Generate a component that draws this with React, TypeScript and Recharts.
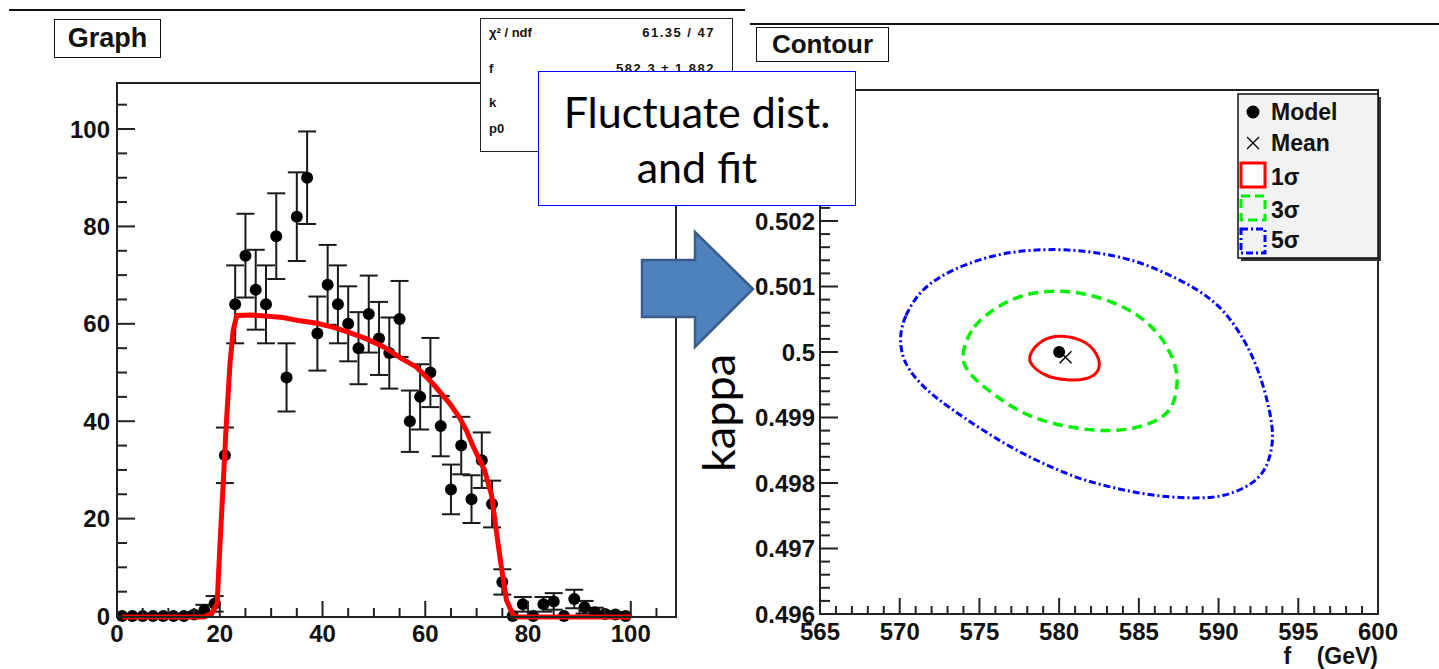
import React from "react";
import { ComposedChart, Scatter, Line, XAxis, YAxis, ErrorBar } from "recharts";

// ---- left pad: fluctuated distribution + fit ----
const binCenters = [1, 3, 5, 7, 9, 11, 13, 15, 17, 19, 21, 23, 25, 27, 29, 31, 33, 35, 37, 39, 41, 43, 45, 47, 49, 51, 53, 55, 57, 59, 61, 63, 65, 67, 69, 71, 73, 75, 77, 79, 81, 83, 85, 87, 89, 91, 93, 95, 97, 99];
const counts = [0, 0, 0, 0, 0, 0, 0, 0.3, 1.2, 2.5, 33, 64, 74, 67, 64, 78, 49, 82, 90, 58, 68, 64, 60, 55, 62, 57, 54, 61, 40, 45, 50, 39, 26, 35, 24, 32, 23, 7, 0, 2.4, 0, 2.4, 3, 0, 3.5, 1.8, 0.8, 0.4, 0.3, 0];
const countErrors = [0, 0, 0, 0, 0, 0, 0, 0.5, 1.1, 1.6, 5.7, 8, 8.6, 8.2, 8, 8.8, 7, 9.1, 9.5, 7.6, 8.2, 8, 7.7, 7.4, 7.9, 7.5, 7.3, 7.8, 6.3, 6.7, 7.1, 6.2, 5.1, 5.9, 4.9, 5.7, 4.8, 2.6, 0, 1.5, 0, 1.5, 1.7, 0, 1.9, 1.3, 0.9, 0.6, 0.5, 0];

const fitX = [1, 17, 18.5, 19.5, 20, 20.7, 21.3, 22, 22.6, 23.3, 26, 30, 32.3, 35.6, 38.9, 42, 45, 48.6, 52, 55, 58.3, 61.5, 64.8, 66.7, 68, 69.3, 70.6, 71.5, 72.9, 73.9, 74.8, 75.8, 77.1, 78, 100];
const fitY = [0, 0, 0.8, 2.8, 14, 28, 40, 52, 58.7, 61.8, 61.9, 61.6, 61.4, 60.7, 60.2, 59.4, 58.4, 57, 55.3, 53.2, 51.2, 47.8, 43.7, 40.8, 38.2, 35, 32.1, 30.2, 25, 17.1, 10.3, 3.5, 0.4, 0, 0];

const leftXLabels = [0, 20, 40, 60, 80, 100];
const leftYLabels = [0, 20, 40, 60, 80, 100];

// ---- right pad: contours in (f, kappa) ----
const modelPoint = { f: 580.0, k: 0.5 };
const meanPoint = { f: 580.4, k: 0.49992 };

const contour1Sigma = [
  [578.0, 0.49994], [578.9, 0.5002], [580.1, 0.50027], [581.8, 0.50017], [582.6, 0.49989],
  [582.5, 0.49969], [581.8, 0.49958], [580.5, 0.49956], [579.1, 0.49963], [578.25, 0.49979],
];
const contour3Sigma = [
  [573.9, 0.49999], [574.5, 0.5004], [576.2, 0.50071], [577.8, 0.50089], [579.7, 0.50094],
  [581.4, 0.50091], [583.5, 0.50076], [585.1, 0.50055], [586.4, 0.50025], [587.2, 0.49989],
  [587.5, 0.49958], [587.2, 0.49917], [586.4, 0.49897], [584.7, 0.49882], [583.0, 0.49879],
  [581.4, 0.49882], [579.3, 0.49892], [577.6, 0.49907], [576.0, 0.49933], [574.7, 0.49958],
  [574.0, 0.49979],
];
const contour5Sigma = [
  [570.0, 0.50025], [570.3, 0.50055], [571.2, 0.50091], [572.4, 0.50114], [574.1, 0.50134],
  [576.2, 0.5015], [578.25, 0.50156], [580.3, 0.50157], [582.4, 0.50152], [584.5, 0.50142],
  [586.6, 0.50122], [588.7, 0.50096], [590.3, 0.50066], [591.6, 0.5002], [592.4, 0.49979],
  [593.0, 0.49933], [593.4, 0.49887], [593.4, 0.49856], [593.0, 0.49821], [592.2, 0.498],
  [591.0, 0.49785], [589.7, 0.49777], [587.6, 0.49777], [585.5, 0.49782], [583.5, 0.49792],
  [581.4, 0.49805], [579.3, 0.49826], [577.2, 0.49851], [575.1, 0.49882], [573.0, 0.49917],
  [571.6, 0.49943], [570.5, 0.49974], [570.1, 0.49999],
];

const rightXLabels = [565, 570, 575, 580, 585, 590, 595, 600];
// 0.503 and 0.504 sit under the annotation box, so only the visible ones are labelled
const rightYLabels = [0.496, 0.497, 0.498, 0.499, 0.5, 0.501, 0.502];

const spectrum = binCenters.map((x, i) => ({ x, y: counts[i], err: countErrors[i] }));
const fitCurve = fitX.map((x, i) => ({ x, y: fitY[i] }));
const toPts = (c: number[][]) => c.map(([f, k]) => ({ f, k }));

const steps = (from: number, to: number, step: number) => {
  const out: number[] = [];
  for (let v = from; v <= to + step / 2; v += step) out.push(Math.round(v * 1e6) / 1e6);
  return out;
};

const AXIS_FONT = "'Liberation Sans', Arial, sans-serif";
const CALLOUT_FONT = "Lato, 'Open Sans', sans-serif";

const LEFT_X_DOMAIN: [number, number] = [0, 108.8];
const LEFT_Y_DOMAIN: [number, number] = [0, 109.45];

const AxisTick = (props: any) => {
  const { x, y, payload, side, labels, majorLen, minorLen, fmt, gap } = props;
  const v = payload.value;
  const major = labels.some((l: number) => Math.abs(l - v) < 1e-7);
  const len = major ? majorLen : minorLen;
  const txt = { fontFamily: AXIS_FONT, fontWeight: 700, fontSize: 24, fill: "#111" };
  if (side === "left") {
    return (
      <g>
        <line x1={x} x2={x + len} y1={y} y2={y} stroke="#222" strokeWidth={2} />
        {major && (
          <text x={x - gap} y={y} textAnchor="end" dominantBaseline="central" style={txt}>
            {fmt(v)}
          </text>
        )}
      </g>
    );
  }
  return (
    <g>
      <line x1={x} x2={x} y1={y} y2={y - len} stroke="#222" strokeWidth={2} />
      {major && (
        <text x={x} y={y + gap} textAnchor="middle" dominantBaseline="central" style={txt}>
          {fmt(v)}
        </text>
      )}
    </g>
  );
};

const Dot = (p: any) => <circle cx={p.cx} cy={p.cy} r={6} fill="#000" />;
const Cross = (p: any) => (
  <g stroke="#000" strokeWidth={1.5}>
    <line x1={p.cx - 6} y1={p.cy - 6} x2={p.cx + 6} y2={p.cy + 6} />
    <line x1={p.cx - 6} y1={p.cy + 6} x2={p.cx + 6} y2={p.cy - 6} />
  </g>
);

const abs = (l: number, t: number, extra: React.CSSProperties = {}): React.CSSProperties => ({
  position: "absolute",
  left: l,
  top: t,
  ...extra,
});

const titleBox: React.CSSProperties = {
  border: "1.5px solid #111",
  background: "#fff",
  boxSizing: "border-box",
  fontFamily: AXIS_FONT,
  fontWeight: 700,
  display: "flex",
  alignItems: "center",
  justifyContent: "center",
  color: "#111",
};

const statFont: React.CSSProperties = {
  fontFamily: AXIS_FONT,
  fontWeight: 700,
  fontSize: 13,
  color: "#111",
  lineHeight: "14px",
};

export default function App() {
  const fmtInt = (v: number) => String(v);
  const fmtK = (v: number) => String(Number(v.toFixed(3)));

  return (
    <div style={{ position: "absolute", left: 0, top: 0, width: 1439, height: 669, background: "#fff", overflow: "hidden" }}>
      <div style={abs(9, 9, { width: 736, height: 2, background: "#111" })} />
      <div style={abs(750, 23, { width: 689, height: 2, background: "#111" })} />

      {/* left pad: points with error bars */}
      <div style={abs(0, 0)}>
        <ComposedChart width={720} height={669} margin={{ top: 83, right: 44, bottom: 22, left: 57 }}>
          <XAxis
            dataKey="x"
            type="number"
            domain={LEFT_X_DOMAIN}
            ticks={steps(0, 105, 5)}
            interval={0}
            axisLine={false}
            tickLine={false}
            tickSize={0}
            tickMargin={0}
            height={30}
            tick={<AxisTick side="bottom" labels={leftXLabels} majorLen={16} minorLen={9} fmt={fmtInt} gap={16} />}
          />
          <YAxis
            type="number"
            domain={LEFT_Y_DOMAIN}
            ticks={steps(0, 105, 5)}
            interval={0}
            axisLine={false}
            tickLine={false}
            tickSize={0}
            tickMargin={0}
            width={60}
            tick={<AxisTick side="left" labels={leftYLabels} majorLen={18} minorLen={10} fmt={fmtInt} gap={7} />}
          />
          <Scatter data={spectrum} dataKey="y" fill="#000" shape={Dot} isAnimationActive={false}>
            <ErrorBar dataKey="err" direction="y" width={9} stroke="#1a1a1a" strokeWidth={2} isAnimationActive={false} />
          </Scatter>
        </ComposedChart>
      </div>
      {/* left pad: fit function drawn over the points, same axes */}
      <div style={abs(0, 0)}>
        <ComposedChart width={720} height={669} margin={{ top: 83, right: 44, bottom: 52, left: 117 }}>
          <XAxis dataKey="x" type="number" domain={LEFT_X_DOMAIN} hide />
          <YAxis type="number" domain={LEFT_Y_DOMAIN} hide />
          <Line data={fitCurve} dataKey="y" type="linear" stroke="#ff0000" strokeWidth={5} dot={false} isAnimationActive={false} />
        </ComposedChart>
      </div>
      <div style={abs(116, 82, { width: 561, height: 536, border: "2px solid #222", boxSizing: "border-box" })} />

      {/* right pad */}
      <div style={abs(700, 0)}>
        <ComposedChart width={700} height={669} margin={{ top: 90, right: 22, bottom: 25, left: 60 }}>
          <XAxis
            dataKey="f"
            type="number"
            domain={[565, 600]}
            ticks={steps(565, 600, 1)}
            interval={0}
            allowDataOverflow
            axisLine={false}
            tickLine={false}
            tickSize={0}
            tickMargin={0}
            height={30}
            tick={<AxisTick side="bottom" labels={rightXLabels} majorLen={16} minorLen={8} fmt={fmtInt} gap={17} />}
          />
          <YAxis
            type="number"
            domain={[0.496, 0.504]}
            ticks={steps(0.496, 0.504, 0.0002)}
            interval={0}
            allowDataOverflow
            axisLine={false}
            tickLine={false}
            tickSize={0}
            tickMargin={0}
            width={60}
            tick={<AxisTick side="left" labels={rightYLabels} majorLen={18} minorLen={10} fmt={fmtK} gap={5} />}
          />
          <Line data={toPts(contour5Sigma)} dataKey="k" type="basisClosed" stroke="#0000ff" strokeWidth={3} strokeDasharray="7 3 2 3" dot={false} isAnimationActive={false} />
          <Line data={toPts(contour3Sigma)} dataKey="k" type="basisClosed" stroke="#00ee00" strokeWidth={3.5} strokeDasharray="10 6" dot={false} isAnimationActive={false} />
          <Line data={toPts(contour1Sigma)} dataKey="k" type="basisClosed" stroke="#ff0000" strokeWidth={3} dot={false} isAnimationActive={false} />
          <Scatter data={[modelPoint]} dataKey="k" shape={Dot} isAnimationActive={false} />
          <Scatter data={[meanPoint]} dataKey="k" shape={Cross} isAnimationActive={false} />
        </ComposedChart>
      </div>
      <div style={abs(819, 89, { width: 560, height: 526, border: "2px solid #222", boxSizing: "border-box" })} />

      {/* legend */}
      <svg style={abs(1236, 92)} width={150} height={172}>
        <rect x={5} y={5} width={140} height={164} fill="#333" />
        <rect x={2} y={2} width={140} height={164} fill="#f2f2f2" stroke="#111" strokeWidth={1.5} />
        <circle cx={17} cy={20} r={6.5} fill="#000" />
        <g stroke="#000" strokeWidth={1.3}>
          <line x1={11} y1={45} x2={23} y2={57} />
          <line x1={11} y1={57} x2={23} y2={45} />
        </g>
        <rect x={5} y={71} width={24} height={24} fill="#fff" stroke="#ff0000" strokeWidth={3} />
        <rect x={5} y={104} width={24} height={24} fill="none" stroke="#00ee00" strokeWidth={3} strokeDasharray="9 5" />
        <rect x={5} y={137} width={24} height={24} fill="none" stroke="#0000ff" strokeWidth={3} strokeDasharray="7 3 2 3" />
        <g style={{ fontFamily: AXIS_FONT, fontWeight: 700, fontSize: 23, fill: "#111" }}>
          <text x={35} y={20} dominantBaseline="central">Model</text>
          <text x={35} y={51} dominantBaseline="central">Mean</text>
          <text x={35} y={85} dominantBaseline="central">1σ</text>
          <text x={35} y={118} dominantBaseline="central">3σ</text>
          <text x={35} y={148} dominantBaseline="central">5σ</text>
        </g>
      </svg>

      <div style={abs(1250, 643, { width: 128, textAlign: "right", fontFamily: AXIS_FONT, fontWeight: 700, fontSize: 23, color: "#111", whiteSpace: "pre" })}>
        {"f    (GeV)"}
      </div>

      {/* title boxes */}
      <div style={abs(54, 19, { ...titleBox, width: 107, height: 39, fontSize: 27 })}>Graph</div>
      <div style={abs(756, 27, { ...titleBox, width: 133, height: 35, fontSize: 26 })}>Contour</div>

      {/* fit statistics box */}
      <div style={abs(480, 18, { width: 253, height: 134, border: "1.5px solid #222", background: "#fff", boxSizing: "border-box" })}>
        <div style={abs(8, 7, statFont)}>χ² / ndf</div>
        <div style={abs(0, 7, { ...statFont, width: 234, textAlign: "right", letterSpacing: 1.5 })}>61.35 / 47</div>
        <div style={abs(8, 43, statFont)}>f</div>
        <div style={abs(0, 43, { ...statFont, width: 234, textAlign: "right", letterSpacing: 1.5 })}>582.3 ± 1.882</div>
        <div style={abs(8, 77, statFont)}>k</div>
        <div style={abs(8, 103, statFont)}>p0</div>
      </div>

      {/* annotation */}
      <div
        style={abs(538, 71, {
          width: 318,
          height: 135,
          border: "1.5px solid #0000ff",
          background: "#fff",
          boxSizing: "border-box",
          fontFamily: CALLOUT_FONT,
          fontSize: 43,
          lineHeight: "55px",
          textAlign: "center",
          color: "#000",
          display: "flex",
          flexDirection: "column",
          justifyContent: "center",
        })}
      >
        <div>Fluctuate dist.</div>
        <div>and fit</div>
      </div>

      <svg style={abs(636, 226)} width={124} height={128}>
        <polygon
          points="6,34 59,34 59,6 117,63 59,121 59,91 6,91"
          fill="#4f81bd"
          stroke="#385d8a"
          strokeWidth={2.5}
          strokeLinejoin="miter"
        />
      </svg>

      <div
        style={abs(718, 413, {
          transform: "translate(-50%, -50%) rotate(-90deg)",
          fontFamily: CALLOUT_FONT,
          fontSize: 45,
          color: "#000",
          whiteSpace: "nowrap",
        })}
      >
        kappa
      </div>
    </div>
  );
}
